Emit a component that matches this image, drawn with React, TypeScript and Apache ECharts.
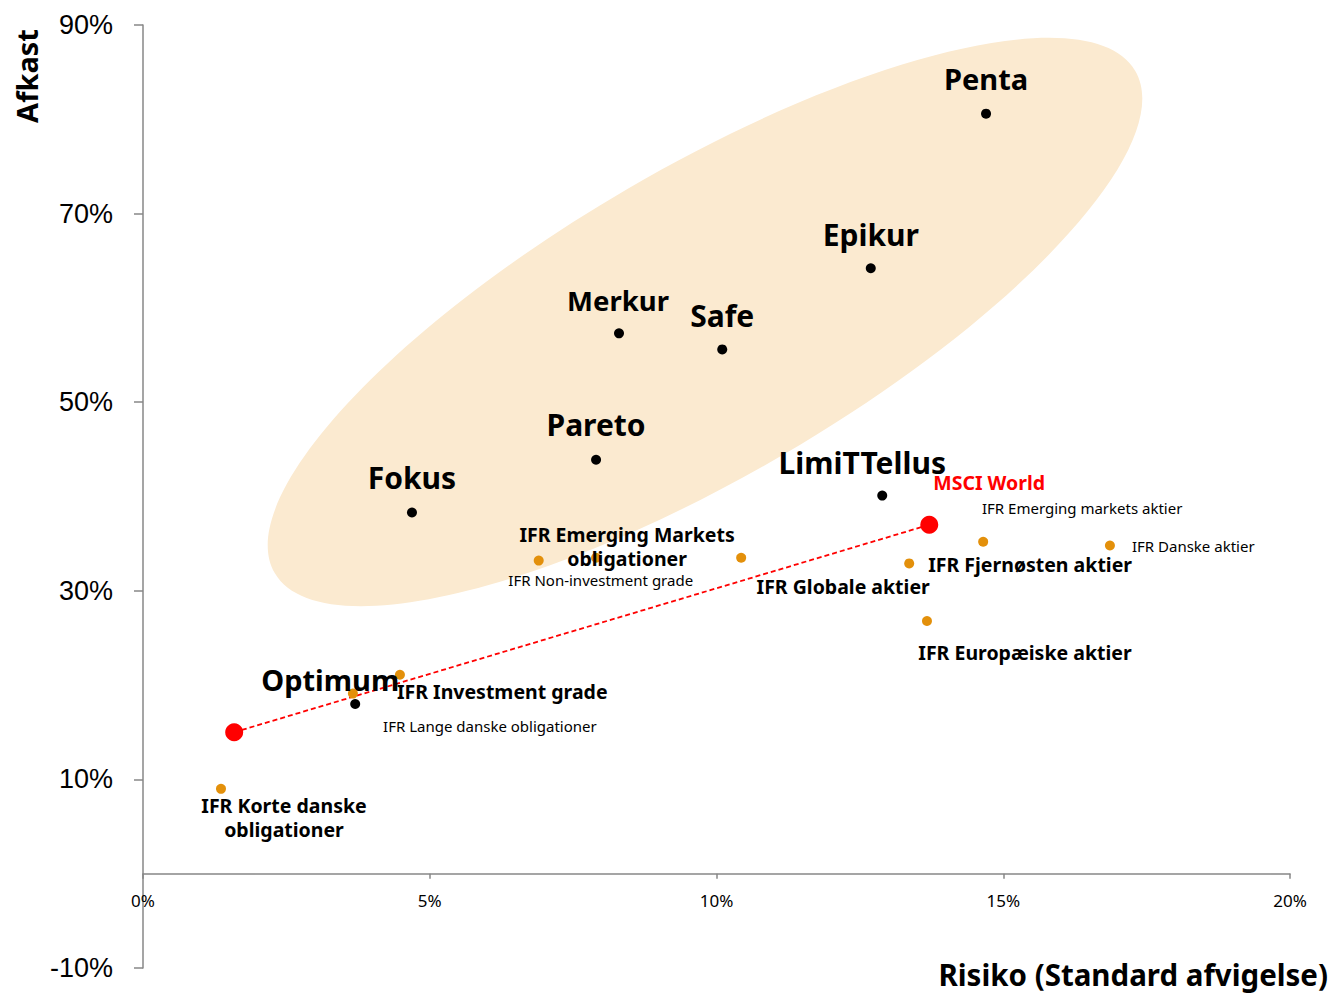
import React, { useEffect, useRef } from "react";
import * as echarts from "echarts";

// ---- Data ----
const fundNames = ["Penta", "Epikur", "Merkur", "Safe", "Pareto", "Fokus", "LimiTTellus", "Optimum"];
const fundRisk = [14.7, 12.69, 8.3, 10.1, 7.9, 4.69, 12.89, 3.7];
const fundReturn = [80.6, 64.2, 57.3, 55.6, 43.9, 38.3, 40.1, 18.0];

const ifrNames = [
  "IFR Emerging Markets\nobligationer",
  "IFR Non-investment grade",
  "IFR Globale aktier",
  "IFR Fjernøsten aktier",
  "IFR Emerging markets aktier",
  "IFR Danske aktier",
  "IFR Europæiske aktier",
  "IFR Investment grade",
  "IFR Lange danske obligationer",
  "IFR Korte danske\nobligationer",
];
const ifrRisk = [7.9, 6.9, 10.43, 13.36, 14.65, 16.86, 13.67, 4.48, 3.66, 1.36];
const ifrReturn = [33.5, 33.2, 33.5, 32.9, 35.2, 34.8, 26.8, 21.1, 19.1, 9.0];

const refNames = ["", "MSCI World"];
const refRisk = [1.59, 13.71];
const refReturn = [15.0, 37.0];

const xMin = 0, xMax = 20, xInterval = 5;
const yMin = -10, yMax = 90, yInterval = 20;

// ---- Styles ----
const FONT = "'Noto Sans', sans-serif";
const ORANGE = "#E3900B";
const RED = "#FF0000";
const AXIS = "#878787";

const GRID_TOP = 25;
const GRID_BOTTOM = 25;
const CHART_H = 993;

type LS = { size: "L" | "M" | "S"; offset: [number, number]; align?: string; color?: string; fs?: number };
const labelStyle: Record<string, LS> = {
  Penta: { size: "L", offset: [0, -35], fs: 29 },
  Epikur: { size: "L", offset: [0, -34] },
  Merkur: { size: "L", offset: [-1, -33], fs: 27.5 },
  Safe: { size: "L", offset: [0, -34] },
  Pareto: { size: "L", offset: [0, -35] },
  Fokus: { size: "L", offset: [0, -35] },
  LimiTTellus: { size: "L", offset: [-20, -33] },
  Optimum: { size: "L", offset: [-25, -24], fs: 29 },
  "IFR Emerging Markets\nobligationer": { size: "M", offset: [31, -11] },
  "IFR Non-investment grade": { size: "S", offset: [62, 19] },
  "IFR Globale aktier": { size: "M", offset: [102, 29] },
  "IFR Fjernøsten aktier": { size: "M", offset: [19, 1], align: "left" },
  "IFR Emerging markets aktier": { size: "S", offset: [99, -34] },
  "IFR Danske aktier": { size: "S", offset: [22, 0], align: "left" },
  "IFR Europæiske aktier": { size: "M", offset: [98, 32] },
  "IFR Investment grade": { size: "M", offset: [-3, 17], align: "left" },
  "IFR Lange danske obligationer": { size: "S", offset: [137, 32] },
  "IFR Korte danske\nobligationer": { size: "M", offset: [63, 29] },
  "MSCI World": { size: "M", offset: [4, -42], align: "left", color: RED },
};

const sizeSpec = {
  L: { fontSize: 30, fontWeight: "bold" as const, lineHeight: 34 },
  M: { fontSize: 19.5, fontWeight: "bold" as const, lineHeight: 24 },
  S: { fontSize: 15, fontWeight: "normal" as const, lineHeight: 18 },
};

function makeItem(name: string, x: number, y: number) {
  const ls = labelStyle[name];
  if (!ls) return { name, value: [x, y], label: { show: false } };
  const s = sizeSpec[ls.size];
  return {
    name,
    value: [x, y],
    label: {
      show: true,
      formatter: name,
      position: "inside",
      offset: ls.offset,
      align: ls.align || "center",
      verticalAlign: "middle",
      color: ls.color || "#000",
      fontFamily: FONT,
      fontSize: ls.fs || s.fontSize,
      fontWeight: s.fontWeight,
      lineHeight: s.lineHeight,
    },
  };
}

export default function App() {
  const ref = useRef<HTMLDivElement>(null);
  useEffect(() => {
    if (!ref.current) return;
    const chart = echarts.init(ref.current, undefined, { renderer: "svg" });
    const gridH = CHART_H - GRID_TOP - GRID_BOTTOM;
    const zeroOffset = -(gridH * (0 - yMin)) / (yMax - yMin);
    chart.setOption({
      animation: false,
      backgroundColor: "#fff",
      grid: {
        left: 143,
        right: 41,
        top: GRID_TOP,
        bottom: GRID_BOTTOM,
        containLabel: false,
        outerBoundsMode: "none",
      },
      xAxis: {
        type: "value",
        min: xMin,
        max: xMax,
        interval: xInterval,
        position: "bottom",
        offset: zeroOffset,
        axisLine: { onZero: false, lineStyle: { color: AXIS, width: 1.5 } },
        axisTick: { show: true, length: 5, lineStyle: { color: AXIS, width: 1.5 } },
        axisLabel: { formatter: "{value}%", fontSize: 17, fontFamily: FONT, color: "#000", margin: 18 },
        splitLine: { show: false },
      },
      yAxis: {
        type: "value",
        min: yMin,
        max: yMax,
        interval: yInterval,
        axisLine: { show: true, onZero: false, lineStyle: { color: AXIS, width: 1.5 } },
        axisTick: { show: true, length: 9, lineStyle: { color: AXIS, width: 1.5 } },
        axisLabel: {
          formatter: "{value}%",
          fontSize: 27,
          fontFamily: "'Liberation Sans', sans-serif",
          color: "#000",
          margin: 30,
        },
        splitLine: { show: false },
      },
      graphic: [
        {
          type: "ellipse",
          x: 705,
          y: 322,
          rotation: (30.25 * Math.PI) / 180,
          shape: { cx: 0, cy: 0, rx: 498, ry: 154 },
          style: { fill: "#FBEAD0" },
          z: -10,
          silent: true,
        },
        {
          type: "text",
          x: 26,
          y: 76,
          rotation: Math.PI / 2,
          style: {
            text: "Afkast",
            font: `bold 29px ${FONT}`,
            fill: "#000",
            textAlign: "center",
            textVerticalAlign: "middle",
          },
        },
        {
          type: "text",
          x: 1328,
          y: 974,
          style: {
            text: "Risiko (Standard afvigelse)",
            font: `bold 29.5px ${FONT}`,
            fill: "#000",
            textAlign: "right",
            textVerticalAlign: "middle",
          },
        },
      ],
      series: [
        {
          type: "line",
          data: refRisk.map((x, i) => [x, refReturn[i]]),
          symbol: "none",
          lineStyle: { color: RED, width: 1.8, type: [5, 3] },
          z: 1,
          silent: true,
        },
        {
          type: "scatter",
          symbolSize: 10,
          itemStyle: { color: ORANGE, opacity: 1 },
          data: ifrNames.map((n, i) => makeItem(n, ifrRisk[i], ifrReturn[i])),
          z: 3,
        },
        {
          type: "scatter",
          symbolSize: 10,
          itemStyle: { color: "#000", opacity: 1 },
          data: fundNames.map((n, i) => makeItem(n, fundRisk[i], fundReturn[i])),
          z: 4,
        },
        {
          type: "scatter",
          symbolSize: 18,
          itemStyle: { color: RED, opacity: 1 },
          data: refNames.map((n, i) => makeItem(n, refRisk[i], refReturn[i])),
          z: 5,
        },
      ],
    });
    return () => chart.dispose();
  }, []);
  return (
    <div
      ref={ref}
      style={{ position: "absolute", left: 0, top: 0, width: 1331, height: 993 }}
    />
  );
}
